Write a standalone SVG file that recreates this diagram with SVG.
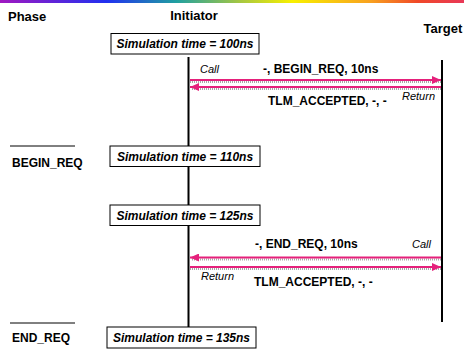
<svg xmlns="http://www.w3.org/2000/svg" width="464" height="349" viewBox="0 0 464 349">
  <defs>
    <linearGradient id="rainbow" x1="0" y1="0" x2="1" y2="0">
      <stop offset="0" stop-color="#a018c0"/>
      <stop offset="0.23" stop-color="#2030f0"/>
      <stop offset="0.38" stop-color="#20a0a0"/>
      <stop offset="0.52" stop-color="#a8c840"/>
      <stop offset="0.63" stop-color="#f8f000"/>
      <stop offset="0.8" stop-color="#f8a020"/>
      <stop offset="0.9" stop-color="#f04828"/>
      <stop offset="1" stop-color="#e83858"/>
    </linearGradient>
    <marker id="head" markerUnits="userSpaceOnUse" markerWidth="9" markerHeight="8" refX="9" refY="4" orient="auto">
      <path d="M0,0 L9,4 L0,8 z" fill="#e5207b"/>
    </marker>
    <marker id="headShadow" markerUnits="userSpaceOnUse" markerWidth="9" markerHeight="8" refX="9" refY="4" orient="auto">
      <path d="M0,0 L9,4 L0,8 z" fill="#b0b0b0"/>
    </marker>
  </defs>
  <style>
    .head { font-family: "Liberation Sans", Arial, sans-serif; font-weight: bold; font-size: 13px; fill: #000; }
    .phase { font-family: "Liberation Sans", Arial, sans-serif; font-weight: bold; font-size: 12px; fill: #000; }
    .msg { font-family: "Liberation Sans", Arial, sans-serif; font-weight: bold; font-size: 12px; fill: #000; }
    .note { font-family: "Liberation Sans", Arial, sans-serif; font-style: italic; font-size: 11px; fill: #000; }
    .time { font-family: "Liberation Sans", Arial, sans-serif; font-weight: bold; font-style: italic; font-size: 12px; fill: #000; text-anchor: middle; }
    .box { fill: #fff; stroke: #000; stroke-width: 1; }
    .life { stroke: #000; stroke-width: 2; fill: none; }
    .sep { stroke: #000; stroke-width: 1; }
    .arrow { stroke: #e5207b; stroke-width: 2; fill: none; marker-end: url(#head); }
    .shadow { stroke: #a8a8a8; stroke-width: 2; stroke-dasharray: 1 1; fill: none; }
  </style>

  <!-- colour band across the top -->
  <rect x="0" y="0" width="464" height="3" fill="url(#rainbow)"/>

  <!-- column headings -->
  <g id="heading-phase"><text class="head" x="8" y="21">Phase</text></g>

  <!-- phase markers -->
  <g id="phase-begin-req">
    <line class="sep" x1="10" y1="146" x2="75" y2="146"/>
    <text class="phase" x="12" y="167">BEGIN_REQ</text>
  </g>
  <g id="phase-end-req">
    <line class="sep" x1="10" y1="323" x2="75" y2="323"/>
    <text class="phase" x="12" y="342">END_REQ</text>
  </g>

  <!-- lifelines -->
  <g id="initiator">
    <text class="head" x="194" y="20" text-anchor="middle">Initiator</text>
    <line class="life" x1="188.5" y1="57" x2="188.5" y2="327"/>
  </g>
  <g id="target">
    <text class="head" x="443" y="33" text-anchor="middle">Target</text>
    <line class="life" x1="442" y1="60" x2="442" y2="322"/>
  </g>

  <!-- simulation time stamps -->
  <g id="time-100">
    <rect class="box" x="111" y="33.5" width="148" height="20.5"/>
    <text class="time" x="185" y="48">Simulation time = 100ns</text>
  </g>
  <g id="time-110">
    <rect class="box" x="110" y="146" width="150" height="20.5"/>
    <text class="time" x="185" y="161">Simulation time = 110ns</text>
  </g>
  <g id="time-125">
    <rect class="box" x="110" y="205" width="150" height="20.5"/>
    <text class="time" x="185" y="220">Simulation time = 125ns</text>
  </g>
  <g id="time-135">
    <rect class="box" x="107" y="327" width="149" height="21"/>
    <text class="time" x="181.5" y="342">Simulation time = 135ns</text>
  </g>

  <!-- transport calls and returns -->
  <g id="connectors">
    <!-- BEGIN_REQ forward call -->
    <line class="shadow" x1="190" y1="82" x2="441" y2="82"/>
    <line class="arrow" x1="190" y1="80" x2="441" y2="80"/>
    <!-- BEGIN_REQ return -->
    <line class="shadow" x1="441" y1="89" x2="191" y2="89"/>
    <line class="arrow" x1="441" y1="87" x2="190" y2="87"/>
    <!-- END_REQ backward call -->
    <line class="shadow" x1="441" y1="259.5" x2="191" y2="259.5"/>
    <line class="arrow" x1="441" y1="257.5" x2="190" y2="257.5"/>
    <!-- END_REQ return -->
    <line class="shadow" x1="190" y1="269" x2="441" y2="269"/>
    <line class="arrow" x1="190" y1="267" x2="441" y2="267"/>
  </g>

  <!-- message labels -->
  <g id="labels">
    <text class="note" x="200" y="73">Call</text>
    <text class="msg" x="263" y="73">-, BEGIN_REQ, 10ns</text>
    <text class="note" x="402" y="100">Return</text>
    <text class="msg" x="268" y="105">TLM_ACCEPTED, -, -</text>
    <text class="msg" x="255" y="248">-, END_REQ, 10ns</text>
    <text class="note" x="412" y="248">Call</text>
    <text class="note" x="201" y="280">Return</text>
    <text class="msg" x="254" y="286">TLM_ACCEPTED, -, -</text>
  </g>
</svg>
